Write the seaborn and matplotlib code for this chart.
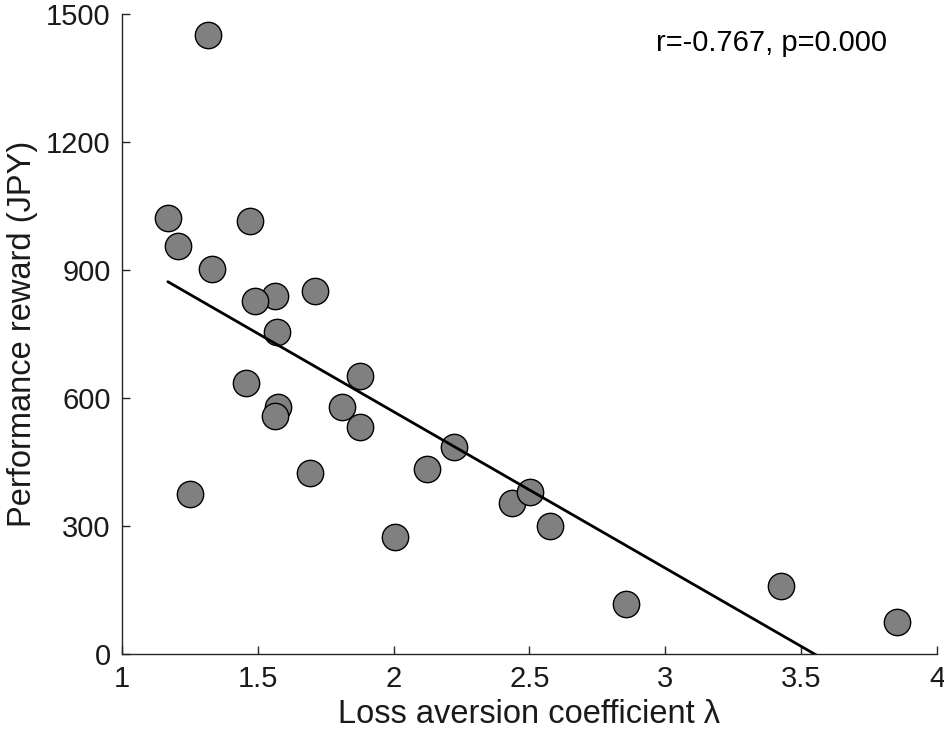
import seaborn as sns
import matplotlib.pyplot as plt
import pandas as pd

# valores
lam = [1.316, 1.169, 1.206, 1.331, 1.471, 1.5625, 1.489, 1.570, 1.710, 1.456,
       1.574, 1.5625, 1.25, 1.691, 1.875, 1.809, 1.875, 2.004, 2.122, 2.224,
       2.436, 2.503, 2.574, 2.857, 3.426, 3.853]
reward = [1451, 1022, 956, 902, 1015, 839, 827, 755, 851, 635,
          579, 558, 375, 424, 652, 579, 532, 274, 434, 485,
          355, 380, 300, 117, 159, 75]

df = pd.DataFrame({'lam': lam, 'reward': reward})

sns.set_style('white')
plt.rcParams['font.family'] = ['Liberation Sans', 'DejaVu Sans']

fig = plt.figure(figsize=(9.45, 7.38), dpi=100)
ax = fig.add_axes([0.129, 0.1138, 0.8625, 0.8672])

sns.regplot(x='lam', y='reward', data=df, ax=ax, ci=None, truncate=True,
            scatter_kws={'s': 360, 'color': '#808080', 'edgecolor': 'black',
                         'linewidths': 1.0, 'alpha': 1},
            line_kws={'color': 'black', 'linewidth': 2.0})

ax.set_xlim(1, 4)
ax.set_ylim(0, 1500)
ax.set_xticks([1, 1.5, 2, 2.5, 3, 3.5, 4])
ax.set_xticklabels(['1', '1.5', '2', '2.5', '3', '3.5', '4'])
ax.set_yticks([0, 300, 600, 900, 1200, 1500])

for s in ['top', 'right']:
    ax.spines[s].set_visible(False)
for s in ['left', 'bottom']:
    ax.spines[s].set_color('#262626')
    ax.spines[s].set_linewidth(1.0)

ax.tick_params(bottom=True, left=True, direction='in', length=6, width=1.0,
               color='#262626', labelsize=21, labelcolor='#1a1a1a', pad=8)
ax.set_xlabel('Loss aversion coefficient λ', fontsize=23.5, labelpad=4, color='#1a1a1a')
ax.set_ylabel('Performance reward (JPY)', fontsize=23.5, labelpad=6, color='#1a1a1a')
ax.text(0.655, 0.955, 'r=-0.767, p=0.000', transform=ax.transAxes,
        fontsize=21, va='center', ha='left', color='black')

plt.savefig('out.png', dpi=100)
